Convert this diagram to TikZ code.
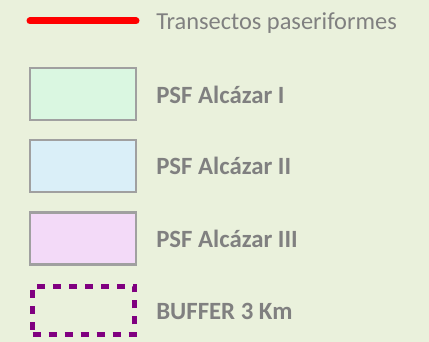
\documentclass[tikz,border=0pt]{standalone}
\usepackage{fontspec}
\setmainfont{Carlito}
\usepackage{xcolor}
\usetikzlibrary{positioning}

\definecolor{legendbg}{HTML}{EAF1DC}
\definecolor{edgegray}{HTML}{A0A0A0}
\definecolor{labelgray}{HTML}{808080}
\definecolor{fillI}{HTML}{DAF7E1}
\definecolor{fillII}{HTML}{DAEFF8}
\definecolor{fillIII}{HTML}{F3DAF8}
\definecolor{bufpurple}{HTML}{800080}

\begin{document}
\begin{tikzpicture}[
  x=0.75pt, y=-0.75pt,
  swatch/.style={draw=edgegray, line width=1.6pt, minimum width=79.5pt, minimum height=39pt, inner sep=0pt},
  bufbox/.style={draw=bufpurple, line width=3.5pt, dash pattern=on 6pt off 6pt, minimum width=76.5pt, minimum height=36pt, inner sep=0pt},
  lbl/.style={anchor=base west, inner sep=0pt, text=labelgray, font=\fontsize{18.3}{22}\selectfont},
  lblbold/.style={lbl, font=\fontsize{18.6}{22}\selectfont\bfseries}
]

  % background
  \fill[legendbg] (0,0) rectangle (429,342);
  \useasboundingbox (0,0) rectangle (429,342);

  % 1. Transect line
  \coordinate (lineL) at (30,21);
  \coordinate (lineR) at (136,21);
  \draw[red, line width=5.25pt, line cap=round] (lineL) -- (lineR);
  \node[lbl] (tlab) at (156,30) {Transectos paseriformes};

  % 2. PSF areas
  \node[swatch, fill=fillI] (psf1) at (83,94) {};
  \node[lblbold] (lab1) at (156,104) {PSF Alcázar I};

  \node[swatch, fill=fillII] (psf2) at (83,166) {};
  \node[lblbold] (lab2) at (156,174.5) {PSF Alcázar II};

  \node[swatch, fill=fillIII] (psf3) at (83,238.5) {};
  \node[lblbold] (lab3) at (156,247.5) {PSF Alcázar III};

  % 3. Buffer
  \node[bufbox] (buf) at (83.5,310.5) {};
  \node[lblbold] (lab4) at (156,320) {BUFFER 3 Km};

\end{tikzpicture}
\end{document}
